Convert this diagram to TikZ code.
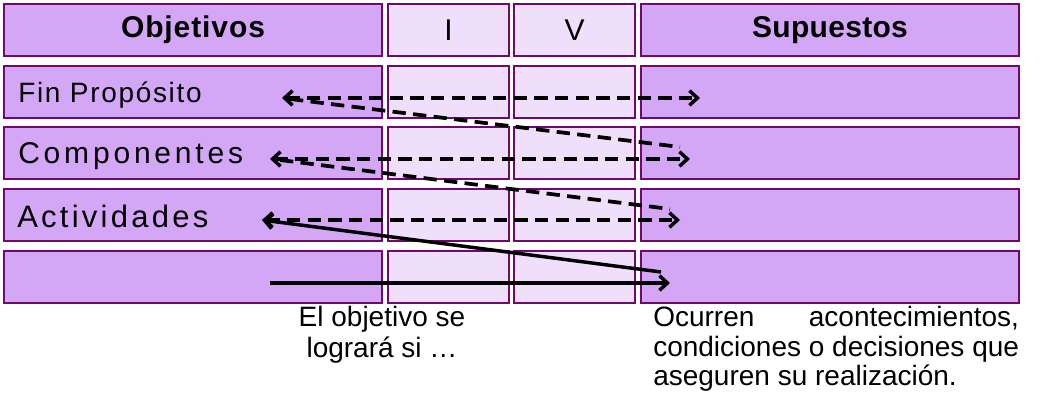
\documentclass[tikz,border=0pt]{standalone}
\usepackage{fontspec}
\setmainfont{Liberation Sans}
\usetikzlibrary{arrows.meta}
\definecolor{cellDark}{HTML}{D3A6F6}
\definecolor{cellLight}{HTML}{EFDFFA}
\definecolor{cellLine}{HTML}{6E0A6E}
\begin{document}
\begin{tikzpicture}[x=0.75pt,y=-0.75pt,
  cellbox/.style={draw=cellLine, line width=1.5pt, minimum height=39pt, inner sep=0pt, outer sep=0pt},
  dk/.style={cellbox, fill=cellDark, minimum width=283.5pt},
  lt/.style={cellbox, fill=cellLight, minimum width=90.75pt},
  hdr/.style={inner sep=0pt, font=\fontsize{22.5}{24}\selectfont\bfseries},
  hdrl/.style={inner sep=0pt, font=\fontsize{22.5}{24}\selectfont},
  lbl/.style={inner sep=0pt, anchor=base west},
  note/.style={inner sep=0pt, font=\fontsize{21}{22.5}\selectfont},
  darr/.style={line width=2.6pt, dash pattern=on 10pt off 5.5pt,
    {Straight Barb[length=6pt,width=11pt]}-{Straight Barb[length=6pt,width=11pt]}},
  dline/.style={line width=2.8pt, dash pattern=on 10pt off 5.5pt},
  sarr/.style={line width=2.6pt, -{Straight Barb[length=6pt,width=11pt]}}
]
\useasboundingbox (0,0) rectangle (1060,402);
% cells
\foreach \r/\y in {0/30,1/91.75,2/153.5,3/215.25,4/277}{
  \node[dk] (a\r) at (193,\y) {};
  \node[lt] (b\r) at (448.5,\y) {};
  \node[lt] (c\r) at (574.5,\y) {};
  \node[dk] (d\r) at (830,\y) {};
}
% header texts
\node[hdr] (hObj) at (193,30) {\addfontfeature{LetterSpace=3}Objetivos};
\node[hdrl] (hI) at (448.5,30) {I};
\node[hdrl] (hV) at (574.5,30) {V};
\node[hdr] (hSup) at (830,30) {\addfontfeature{LetterSpace=1}Supuestos};
% row labels
\node[lbl, font=\fontsize{21}{22}\selectfont] (lFin) at (18,103) {\addfontfeature{LetterSpace=6}Fin Propósito};
\node[lbl, font=\fontsize{22.5}{24}\selectfont] (lCom) at (18,164) {\addfontfeature{LetterSpace=12.7}Componentes};
\node[lbl, font=\fontsize{23.25}{24}\selectfont] (lAct) at (17,228) {\addfontfeature{LetterSpace=10.5}Actividades};
% arrow end points
\coordinate (f1) at (282,98);  \coordinate (f2) at (700,98);
\coordinate (k1) at (270,159); \coordinate (k2) at (690,159);
\coordinate (t1) at (262,220); \coordinate (t2) at (680,220);
\coordinate (g1) at (290,99);  \coordinate (g2) at (680,147);
\coordinate (h1) at (280,160); \coordinate (h2) at (670,209);
\coordinate (s1) at (270,283); \coordinate (s2) at (670,283);
\coordinate (s3) at (661,272);
% arrows
\draw[darr] (f1) -- (f2);
\draw[darr] (k1) -- (k2);
\draw[darr] (t1) -- (t2);
\draw[dline] (g1) -- (g2);
\draw[dline] (h1) -- (h2);
\draw[sarr] (s1) -- (s2);
\draw[sarr] (s3) -- (t1);
% notes
\node[note, anchor=base] (n1) at (382,327) {El objetivo se};
\node[note, anchor=base] (n2) at (382,358) {logrará si …};
\node[note, anchor=base west] (m1) at (653,327) {\makebox[274.3pt][s]{Ocurren\hfill acontecimientos,}};
\node[note, anchor=base west] (m2) at (653,357) {condiciones o decisiones que};
\node[note, anchor=base west] (m3) at (653,386) {aseguren su realización.};
\end{tikzpicture}
\end{document}
